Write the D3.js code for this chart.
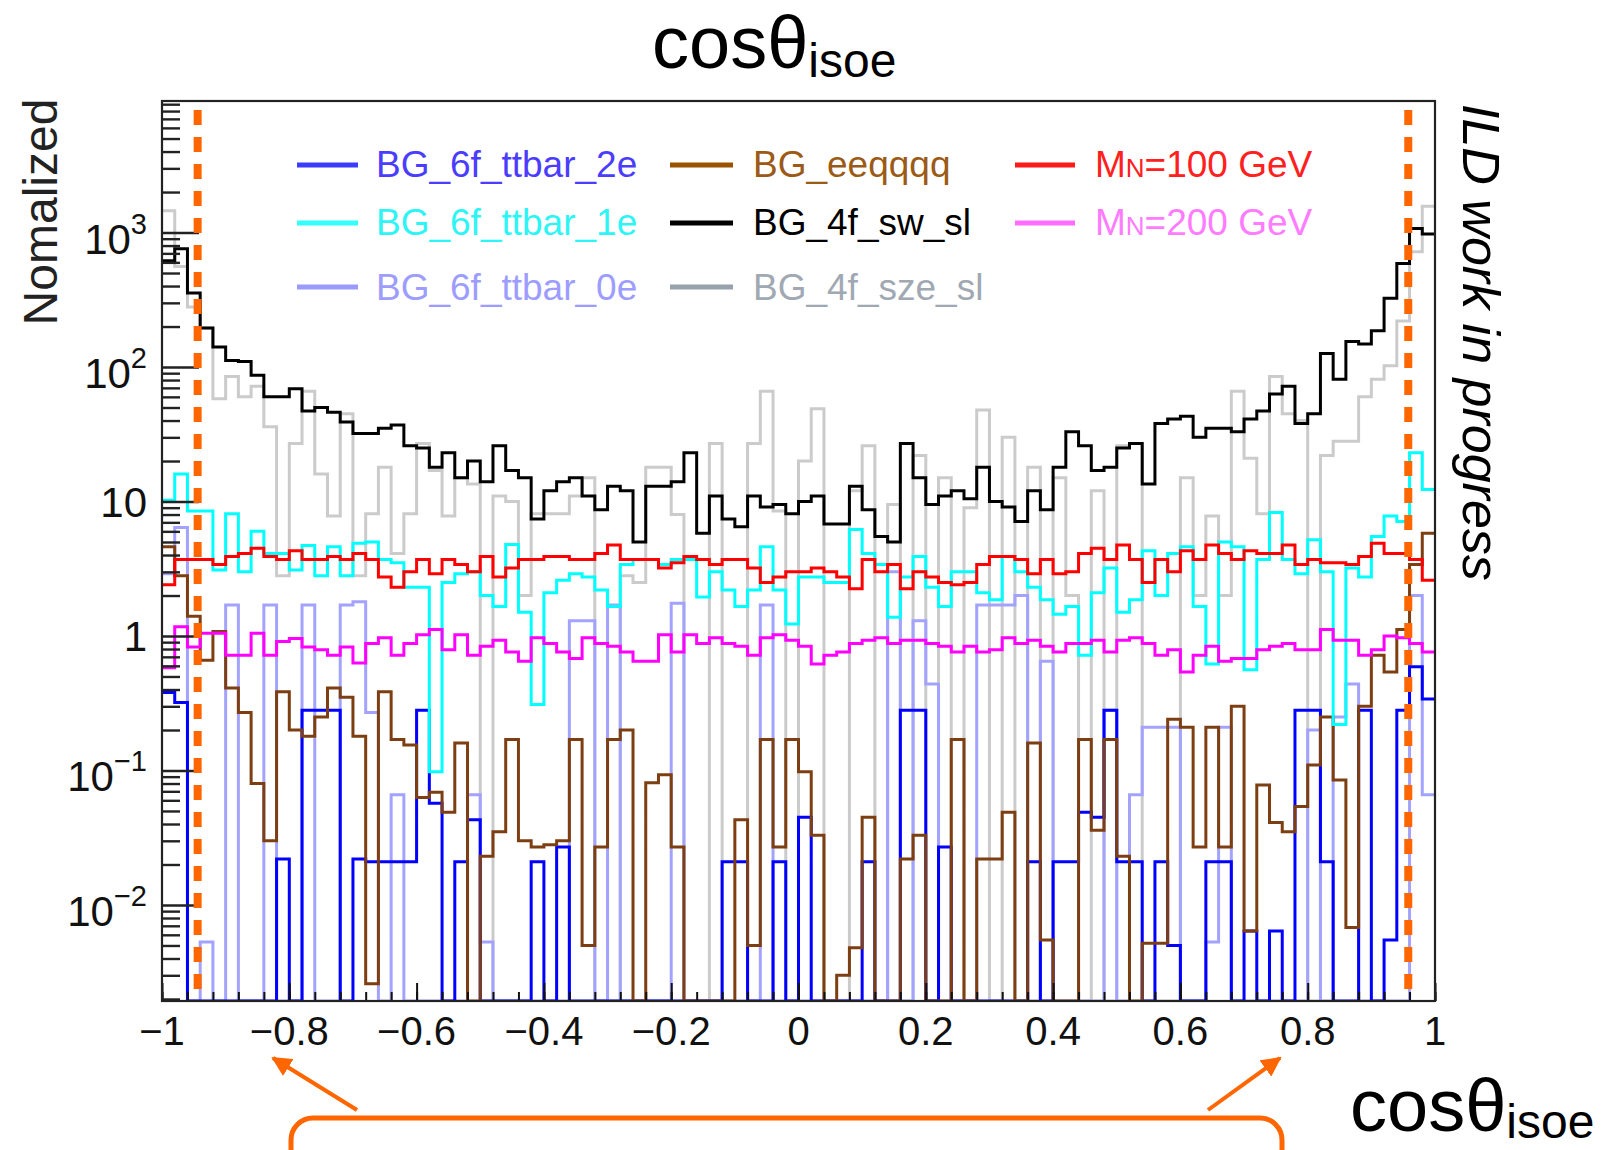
<!DOCTYPE html>
<html><head><meta charset="utf-8">
<script src="https://cdn.jsdelivr.net/npm/d3@7"></script>
<style>
html,body{margin:0;padding:0;background:#fff;}
svg{display:block;font-family:"Liberation Sans",Arial,Helvetica,sans-serif;}
</style></head><body>
<svg id="c" width="1610" height="1150"></svg>
<script>
// ---------------- data (100 bins, cos theta from -1 to 1) ----------------
const nBins = 100, xLo = -1, xHi = 1;

const bg6f2e = [0.38,0.32,0,0,0,0,0,0,0,0.022,
 0,0.28,0.28,0.28,0,0.022,0.021,0.021,0.021,0.021,
 0.28,0.057,0,0.021,0.043,0,0,0,0,0.021,
 0,0.027,0,0,0,0,0,0,0,0,
 0,0,0,0,0.021,0.021,0,0,0.021,0,
 0.045,0,0,0,0,0.021,0,0,0.28,0.28,
 0,0.027,0,0,0,0,0,0,0.021,0,
 0.021,0.021,0.049,0.045,0.28,0.021,0.021,0,0.021,0.005,
 0,0,0.021,0.021,0,0.0064,0,0.0064,0,0.28,
 0.28,0.021,0,0,0.28,0,0.0055,0.28,0.59,0.34];

const bg6f1e = [10.2,16,8.5,8.5,3.1,8.1,3.0,6.0,4.1,4.1,
 3.1,4.7,2.8,4.6,2.8,4.9,5.0,3.7,3.5,2.3,
 2.3,0.098,2.5,2.9,3.0,2.0,1.66,4.8,1.5,0.31,
 2.1,2.6,2.9,2.75,2.2,1.66,3.4,3.7,3.7,3.4,
 3.7,3.7,1.95,3.0,2.2,1.66,2.2,4.6,2.2,1.23,
 2.75,2.75,2.5,2.5,6.2,4.1,3.4,1.38,2.75,3.9,
 2.3,1.66,3.0,3.0,2.1,1.86,3.9,3.0,2.3,1.86,
 1.45,1.66,0.72,2.1,3.2,1.5,1.86,4.3,2.0,4.1,
 4.6,1.66,0.62,5.0,4.6,0.56,3.7,8.3,3.7,2.9,
 5.2,3.0,0.22,3.2,2.75,5.5,7.8,7.1,23,12.3];

const bg6f0e = [2.9,6.4,0,0.0053,0,1.7,0,0,1.7,0,
 0,1.7,0,0,1.7,1.8,0.27,0,0.066,0,
 0,0,0,0,0.066,0.0053,0,0,0,0,
 0,0,1.3,1.3,0,1.7,0,0,0,0,
 1.75,0,0,0,0,0,0,1.7,0,0,
 0,0,0,0,0,0,0,3.0,0,1.3,
 0.44,0,0,0,1.7,1.7,1.7,2.0,0,0.65,
 0,0,0,0,0.28,0,0.066,0.21,0.21,0.21,
 0,0,0.0053,0.21,0,0,0,0,0,0,
 0.2,0,0.25,0.44,0,0,0,0,2.0,0.066];

const bgEeqqqq = [4.6,2.8,1.4,0.66,1.08,0.41,0.27,0.080,0.030,0.385,
 0.20,0.18,0.25,0.41,0.35,0.18,0.0026,0.385,0.17,0.155,
 0.063,0.069,0.049,0.16,0,0.023,0.035,0.17,0.030,0.027,
 0.028,0.030,0.17,0.005,0.027,0.17,0.20,0,0.081,0.093,
 0.027,0,0,0,0,0.043,0.005,0.17,0.027,0.17,
 0.098,0.033,0,0.003,0.0048,0.045,0,0,0.022,0.033,
 0,0,0.17,0,0.022,0.022,0.049,0,0.16,0.0055,
 0,0,0.17,0.036,0.17,0.023,0,0.0052,0.0052,0.24,
 0.21,0.027,0.21,0.027,0.30,0.0064,0.078,0.041,0.035,0.054,
 0.11,0.25,0.085,0.0068,0.30,0.72,0.54,1.12,3.4,5.8];

const bg4fSwSl = [617,759,355,195,141,112,110,87,60,60,
 69,47,50,46,39,32,32,35,37,26,
 25,18,23,15,20,14,26,17,15,7.4,
 12,14,15,11,8.7,13,12,5.0,13,13,
 14,23,5.8,11,7.4,6.5,11,9.1,9.5,8.1,
 10,11,6.8,6.8,13,8.7,5.5,5.0,27,15,
 9.5,11,12,10.5,18,10,9.1,7.1,12,8.7,
 18,33,26,17,18,25,27,13.5,38,41,
 43,30,35,35,33,41,47,63,72,38,
 45,126,81,155,148,186,324,589,1072,977];

const bg4fSzeSl = [1450,560,280,195,58,85,60,72,36,2.8,
 27,66,16,7.8,45,2.8,8.1,18,4.1,8.1,
 27,17,7.8,15,13.5,0,11,10,2.0,8.1,
 8.1,8.1,11,15,0,0,2.8,2.5,18,18,
 8,0,0,27,0,0,27,66,8.5,0,
 20,49,0,0,12,26,0,9.5,0,22,
 0,15,0,9,48,0,30,0,18,0,
 15,2.0,0,12,0,26,27,0,0,0,
 15,2.0,7.8,2.0,66,21,8.1,85,45,40,
 0,22,28,28,60,81,102,220,720,1570];

const mN100 = [2.4,3.7,3.7,3.7,3.4,3.9,4.1,4.5,3.9,3.7,
 4.3,3.7,3.7,3.9,3.7,4.1,3.7,2.75,2.3,3.0,
 3.7,2.9,3.7,3.4,3.0,3.9,2.75,3.2,3.7,3.7,
 3.9,3.9,3.7,3.7,4.1,4.75,3.7,3.7,3.7,3.2,
 3.5,3.9,3.7,3.4,3.7,3.7,3.2,2.5,2.75,3.0,
 3.0,3.2,3.0,2.75,2.25,3.7,3.0,3.4,2.25,3.0,
 2.75,2.5,2.4,2.5,3.4,3.9,3.9,3.7,2.9,3.7,
 2.9,3.0,4.1,4.5,3.7,4.75,3.7,2.5,3.7,3.0,
 4.3,3.7,4.75,4.1,3.7,4.3,4.1,4.1,4.75,3.4,
 3.7,3.5,3.5,3.4,3.9,4.9,4.1,4.1,3.7,2.6];

const mN200 = [0.58,1.17,0.83,1.05,1.05,0.72,0.72,1.05,0.72,0.91,
 0.96,0.83,0.79,0.72,0.83,0.63,0.88,0.97,0.72,0.88,
 1.02,1.12,0.79,1.02,0.72,0.84,0.93,0.76,0.65,0.97,
 0.88,0.76,0.68,0.97,0.88,0.84,0.76,0.65,0.65,1.02,
 0.76,1.02,0.88,0.97,0.88,0.84,0.72,0.97,1.02,0.93,
 0.84,0.62,0.72,0.76,0.88,0.93,0.97,0.88,0.93,0.93,
 0.88,0.84,0.76,0.84,0.76,0.79,0.97,0.88,0.93,0.84,
 0.76,0.88,0.88,0.93,0.76,0.93,0.97,0.88,0.72,0.79,
 0.54,0.72,0.84,0.65,0.68,0.68,0.79,0.84,0.88,0.79,
 0.79,1.12,0.93,0.93,0.72,0.79,1.0,0.97,0.88,0.76];

const xTickValues = [-1,-0.8,-0.6,-0.4,-0.2,0,0.2,0.4,0.6,0.8,1];
const xTickLabels = ["\u22121","\u22120.8","\u22120.6","\u22120.4","\u22120.2","0","0.2","0.4","0.6","0.8","1"];
const yTickValues = [0.01,0.1,1,10,100,1000];
const yTickBase = ["10","10","1","10","10","10"];
const yTickExp = ["\u22122","\u22121","","","2","3"];
const cutValues = [-0.944, 0.958];

const legendNames = ["BG_6f_ttbar_2e","BG_6f_ttbar_1e","BG_6f_ttbar_0e","BG_eeqqqq","BG_4f_sw_sl","BG_4f_sze_sl","M|N|=100 GeV","M|N|=200 GeV"];

// ---------------- layout ----------------
const L = 162, R = 1435, T = 101, B = 1001;
const yMin = Math.pow(10,-2.714), yMax = Math.pow(10,3.978);
const svg = d3.select("#c");
const x = d3.scaleLinear().domain([xLo,xHi]).range([L,R]);
const y = d3.scaleLog().domain([yMin,yMax]).range([B,T]);

const series = [
  {vals:bg4fSzeSl, stroke:"#cbcbcb", leg:5, lineCol:"#98a2ad", txtCol:"#a0a9b3"},
  {vals:bg6f0e,   stroke:"#a3a3ff", leg:2, lineCol:"#9a9aff", txtCol:"#9d9dff"},
  {vals:bg6f2e,   stroke:"#0000ff", leg:0, lineCol:"#3c3cff", txtCol:"#4a3dff"},
  {vals:bgEeqqqq, stroke:"#7d3e12", leg:3, lineCol:"#9a5400", txtCol:"#9b5a16"},
  {vals:bg6f1e,   stroke:"#00ffff", leg:1, lineCol:"#33ffff", txtCol:"#2ef5f5"},
  {vals:bg4fSwSl, stroke:"#000000", leg:4, lineCol:"#000000", txtCol:"#000000"},
  {vals:mN100,    stroke:"#ff0000", leg:6, lineCol:"#ff1a1a", txtCol:"#ff2020"},
  {vals:mN200,    stroke:"#ff00ff", leg:7, lineCol:"#ff6cff", txtCol:"#ff7bff"}
];

svg.append("rect").attr("width",1610).attr("height",1150).attr("fill","#fff");

const defs = svg.append("defs");
defs.append("clipPath").attr("id","frameClip")
  .append("rect").attr("x",L).attr("y",T-2).attr("width",R-L).attr("height",B-T+2);

// histograms
const binW = (xHi-xLo)/nBins;
const stepLine = d3.line()
  .x(d=>x(d[0]))
  .y(d=>y(Math.max(d[1],yMin)))
  .curve(d3.curveStepAfter);
const gH = svg.append("g").attr("clip-path","url(#frameClip)");
series.forEach(s=>{
  const pts = s.vals.map((v,i)=>[xLo+i*binW, v]);
  pts.push([xHi, s.vals[nBins-1]]);
  gH.append("path").attr("d",stepLine(pts))
    .attr("fill","none").attr("stroke",s.stroke).attr("stroke-width",3)
    .attr("stroke-linejoin","miter");
});

// axes ticks (inward)
const xMinor = d3.range(-1,1.0001,0.04).map(v=>+v.toFixed(2));
svg.append("g").attr("transform",`translate(0,${B})`)
  .call(d3.axisBottom(x).tickValues(xMinor).tickSize(-9).tickFormat(""))
  .call(g=>g.select(".domain").remove())
  .call(g=>g.selectAll("line").attr("stroke","#111").attr("stroke-width",2));
svg.append("g").attr("transform",`translate(0,${B})`)
  .call(d3.axisBottom(x).tickValues(xTickValues).tickSize(-18).tickFormat(""))
  .call(g=>g.select(".domain").remove())
  .call(g=>g.selectAll("line").attr("stroke","#111").attr("stroke-width",2));

const yMinor = [];
for (let d=-3; d<=3; d++) for (let k=2;k<=9;k++){ const v=k*Math.pow(10,d); if(v>yMin && v<yMax) yMinor.push(v); }
svg.append("g").attr("transform",`translate(${L},0)`)
  .call(d3.axisLeft(y).tickValues(yMinor).tickSize(-18).tickFormat(""))
  .call(g=>g.select(".domain").remove())
  .call(g=>g.selectAll("line").attr("stroke","#222").attr("stroke-width",2.4));
svg.append("g").attr("transform",`translate(${L},0)`)
  .call(d3.axisLeft(y).tickValues(yTickValues).tickSize(-37).tickFormat(""))
  .call(g=>g.select(".domain").remove())
  .call(g=>g.selectAll("line").attr("stroke","#222").attr("stroke-width",2.4));

// frame
svg.append("rect").attr("x",L).attr("y",T).attr("width",R-L).attr("height",B-T)
  .attr("fill","none").attr("stroke","#222").attr("stroke-width",2.2);

// x tick labels
svg.append("g").selectAll("text").data(xTickValues).join("text")
  .attr("x",d=>x(d)).attr("y",1045).attr("text-anchor","middle")
  .attr("font-size",40).attr("fill","#111")
  .text((d,i)=>xTickLabels[i]);

// y tick labels
const yl = svg.append("g");
yTickValues.forEach((v,i)=>{
  const ty = y(v);
  if (yTickExp[i]===""){
    yl.append("text").attr("x",147).attr("y",ty+15).attr("text-anchor","end")
      .attr("font-size",42).attr("fill","#111").text(yTickBase[i]);
  } else {
    const t = yl.append("text").attr("x",147).attr("y",ty+21).attr("text-anchor","end")
      .attr("font-size",42).attr("fill","#111");
    t.append("tspan").text(yTickBase[i]);
    t.append("tspan").attr("font-size",29).attr("dy",-20).text(yTickExp[i]);
  }
});

// y axis title
svg.append("text").attr("transform","translate(57,212) rotate(-90)")
  .attr("text-anchor","middle").attr("font-size",48).attr("fill","#222").text("Nomalized");

// cut lines (orange dashed)
svg.append("g").selectAll("line").data(cutValues).join("line")
  .attr("x1",d=>x(d)).attr("x2",d=>x(d)).attr("y1",110).attr("y2",996)
  .attr("stroke","#ff6600").attr("stroke-width",8).attr("stroke-dasharray","15 12");

// legend
const colX = [{l0:297,l1:358,tx:376},{l0:670,l1:733,tx:753},{l0:1015,l1:1075,tx:1095}];
const rowLineY = [165,223,287], rowBase = [177,235,300];
const legendSlots = [[0,0],[0,1],[0,2],[1,0],[1,1],[1,2],[2,0],[2,1]];
const gL = svg.append("g");
series.forEach(s=>{
  const [c,r] = legendSlots[s.leg];
  gL.append("line").attr("x1",colX[c].l0).attr("x2",colX[c].l1)
    .attr("y1",rowLineY[r]).attr("y2",rowLineY[r])
    .attr("stroke",s.lineCol).attr("stroke-width",5);
  const parts = legendNames[s.leg].split("|");
  const t = gL.append("text").attr("x",colX[c].tx).attr("y",rowBase[r])
    .attr("font-size",37).attr("fill",s.txtCol);
  if (parts.length===1) t.text(parts[0]);
  else {
    t.append("tspan").text(parts[0]);
    t.append("tspan").attr("font-size",26).text(parts[1]);
    t.append("tspan").text(parts[2]);
  }
});

// titles
function cosTitle(x0, base, subDy){
  const t = svg.append("text").attr("x",x0).attr("y",base).attr("font-size",74).attr("fill","#000");
  t.append("tspan").text("cos\u03b8");
  t.append("tspan").attr("font-size",48).attr("dy",subDy).text("isoe");
}
cosTitle(652, 68, 9);
cosTitle(1350, 1131, 7);

// ILD label
svg.append("text").attr("transform","translate(1463,104) rotate(90)")
  .attr("font-size",52).attr("font-style","italic").attr("fill","#000")
  .text("ILD work in progress");

// orange annotation box and arrows
svg.append("rect").attr("x",291).attr("y",1118).attr("width",991).attr("height",80)
  .attr("rx",22).attr("fill","#fff").attr("stroke","#ff6600").attr("stroke-width",5);
defs.append("marker").attr("id","ah").attr("viewBox","0 0 10 10").attr("refX",9).attr("refY",5)
  .attr("markerWidth",5).attr("markerHeight",5).attr("orient","auto")
  .append("path").attr("d","M0,0 L10,5 L0,10 z").attr("fill","#ff6600");
const arrows = [[357,1110,273,1058],[1208,1110,1280,1058]];
svg.append("g").selectAll("line").data(arrows).join("line")
  .attr("x1",d=>d[0]).attr("y1",d=>d[1]).attr("x2",d=>d[2]).attr("y2",d=>d[3])
  .attr("stroke","#ff6600").attr("stroke-width",4).attr("marker-end","url(#ah)");
</script>
</body></html>
